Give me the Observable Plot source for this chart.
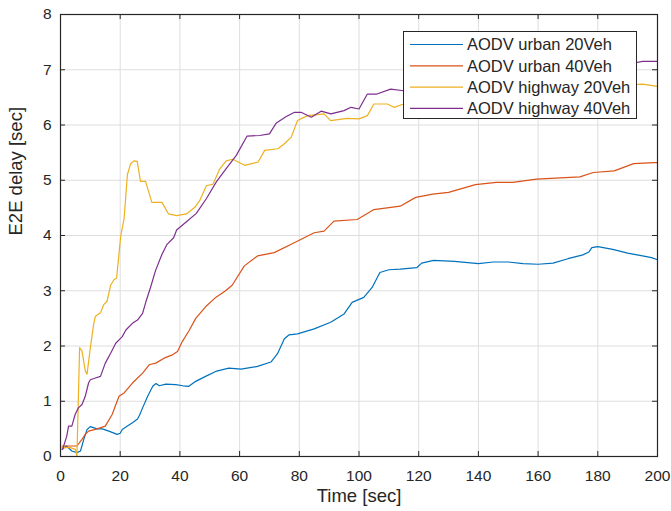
<!DOCTYPE html>
<html>
<head>
<meta charset="utf-8">
<script src="https://cdn.jsdelivr.net/npm/d3@7"></script>
<script src="https://cdn.jsdelivr.net/npm/@observablehq/plot@0.6"></script>
<style>
  html, body { margin: 0; padding: 0; background: #fff; }
  #wrap { position: relative; width: 671px; height: 511px; font-family: "Liberation Sans", Arial, sans-serif; }
  #legend { position: absolute; left: 403px; top: 31px; }
</style>
</head>
<body>
<div id="wrap"></div>
<script>
const xTicks = [0, 20, 40, 60, 80, 100, 120, 140, 160, 180, 200];
const yTicks = [0, 1, 2, 3, 4, 5, 6, 7, 8];
const seriesNames = ["AODV urban 20Veh", "AODV urban 40Veh", "AODV highway 20Veh", "AODV highway 40Veh"];
const seriesColors = ["#0072BD", "#D95319", "#EDB120", "#7E2F8E"];

const urban20T = [0.5,2,3.8,5.5,6.7,7.8,8.9,10,12.3,14,16.2,19,20,20.7,22.4,24.1,25.8,26.5,27.5,29.2,30.9,32,33.1,35.3,38.6,41,43,45.3,48.6,52,56.4,60.5,66,70.5,72.7,75,76.5,79.4,85,90.5,95,97.7,101.6,104.4,107,110,113.8,119.4,121,125,132,140,145,150,155,160,165,170,175,177,178,180,185,190,195,198,200];
const urban20V = [0.13,0.19,0.1,0.07,0.1,0.31,0.49,0.54,0.5,0.5,0.46,0.4,0.42,0.49,0.55,0.61,0.68,0.75,0.88,1.09,1.27,1.32,1.28,1.31,1.3,1.28,1.27,1.36,1.45,1.54,1.6,1.58,1.63,1.71,1.86,2.13,2.2,2.22,2.31,2.43,2.58,2.79,2.88,3.06,3.33,3.38,3.39,3.42,3.5,3.55,3.53,3.49,3.52,3.52,3.49,3.48,3.5,3.58,3.65,3.7,3.78,3.8,3.75,3.68,3.63,3.6,3.56];

const urban40T = [0.5,3.3,5.5,7.2,8.3,9.4,11.7,15,17.3,19.6,21.3,24.1,27.5,29.7,31.9,34.7,37.5,39.2,40.8,43.1,45.3,48.6,52,55.3,57.5,61.6,66,71.6,78.3,85,88.3,91.6,99.4,105,113.8,119,124.7,130,139,146,151.5,159.5,174,178.5,185.5,192,199,200];
const urban40V = [0.19,0.19,0.19,0.31,0.4,0.46,0.49,0.55,0.76,1.09,1.15,1.33,1.51,1.66,1.69,1.78,1.84,1.9,2.08,2.28,2.5,2.71,2.88,3.0,3.1,3.45,3.63,3.69,3.87,4.05,4.08,4.26,4.29,4.47,4.53,4.69,4.75,4.78,4.92,4.96,4.96,5.02,5.06,5.14,5.17,5.3,5.32,5.32];

const highway20T = [0.5,3.3,5,5.5,6.4,7.2,8.3,8.9,10,11.1,11.7,13.4,14.5,15.6,16.8,17.9,18.8,20.2,21.3,22.4,23.5,24.6,25.7,26.8,28.5,30.6,33,34,36.2,38.9,42.2,45,46.6,48.9,51.1,53.3,55.5,57.7,61.7,66.2,68.4,72.8,75,77.3,79.4,82.8,88.3,90.5,96,100,102.8,105,109.5,111.7,115,125,140,160,180,190,195,200];
const highway20V = [0.16,0.16,0.13,0.0,1.97,1.91,1.55,1.49,1.97,2.39,2.54,2.6,2.75,2.81,3.1,3.2,3.23,4.0,4.3,5.1,5.3,5.35,5.34,4.98,4.98,4.6,4.6,4.6,4.39,4.36,4.39,4.51,4.63,4.9,4.93,5.2,5.35,5.38,5.27,5.33,5.54,5.57,5.66,5.78,6.08,6.17,6.2,6.08,6.12,6.11,6.17,6.38,6.38,6.32,6.38,6.45,6.5,6.6,6.68,6.72,6.74,6.7];

const highway40T = [0.7,2.1,2.7,3.8,4.9,6,7.2,8.3,9.4,10,11.7,13.4,15,16.8,18.5,20.7,21.9,24.1,25.8,27.5,28.6,30.1,31.8,34,35.7,37.9,38.9,42.2,45.5,48.9,52.2,55.5,58.9,62.5,66.7,70,72.2,75.5,78.4,80.6,84,87.3,90.6,95,97.3,100,102.8,106,110.6,115,130,150,170,190,195,200];
const highway40V = [0.13,0.37,0.55,0.55,0.76,0.88,0.94,1.09,1.33,1.39,1.42,1.45,1.69,1.87,2.05,2.17,2.29,2.41,2.47,2.59,2.8,3.05,3.36,3.66,3.84,3.96,4.1,4.25,4.4,4.67,4.97,5.21,5.45,5.8,5.81,5.84,6.03,6.15,6.23,6.23,6.14,6.25,6.2,6.26,6.32,6.29,6.56,6.56,6.65,6.62,6.75,6.9,7.0,7.1,7.15,7.15];

const seriesT = [urban20T, urban40T, highway20T, highway40T];
const seriesV = [urban20V, urban40V, highway20V, highway40V];
const rows = seriesNames.flatMap((name, i) => seriesT[i].map((t, j) => ({series: name, t, v: seriesV[i][j]})));

const W = 671, H = 511, mL = 60, mR = 14, mT = 14, mB = 55;
const plotW = W - mL - mR, plotH = H - mT - mB;
const axisColor = "#262626";

const chart = Plot.plot({
  width: W, height: H,
  marginLeft: mL, marginRight: mR, marginTop: mT, marginBottom: mB,
  style: {fontFamily: "'Liberation Sans', Arial, sans-serif", fontSize: "15.5px", color: axisColor, background: "#fff", overflow: "visible"},
  x: {domain: [0, 200], ticks: xTicks, tickSize: 0, tickPadding: 13, label: null},
  y: {domain: [0, 8], ticks: yTicks, tickSize: 0, tickPadding: 9, label: null},
  color: {domain: seriesNames, range: seriesColors},
  marks: [
    Plot.ruleX(xTicks, {stroke: "#dedede", strokeWidth: 1}),
    Plot.ruleY(yTicks, {stroke: "#dedede", strokeWidth: 1}),
    Plot.line(rows, {x: "t", y: "v", z: "series", stroke: "series", strokeWidth: 1.2}),
    Plot.ruleX(xTicks, {stroke: axisColor, insetBottom: plotH - 5}),
    Plot.ruleX(xTicks, {stroke: axisColor, insetTop: plotH - 5}),
    Plot.ruleY(yTicks, {stroke: axisColor, insetRight: plotW - 5}),
    Plot.ruleY(yTicks, {stroke: axisColor, insetLeft: plotW - 5}),
    Plot.frame({stroke: axisColor, strokeWidth: 1.2}),
    Plot.text(["Time [sec]"], {frameAnchor: "bottom", dy: 45, fontSize: 18.5, fill: axisColor}),
    Plot.text(["E2E delay [sec]"], {frameAnchor: "left", dx: -44, rotate: -90, fontSize: 18.5, fill: axisColor})
  ]
});

const wrap = document.getElementById("wrap");
wrap.appendChild(chart);

// Legend box drawn inside the plot area
const lw = 234, lh = 88;
const legend = d3.create("svg").attr("id", "legend").attr("width", lw).attr("height", lh);
legend.append("rect").attr("x", 0.5).attr("y", 0.5).attr("width", lw - 1).attr("height", lh - 1)
  .attr("fill", "#fff").attr("stroke", axisColor).attr("stroke-width", 1);
seriesNames.forEach((name, i) => {
  const cy = 13.5 + i * 21.3;
  legend.append("line").attr("x1", 7).attr("x2", 60).attr("y1", cy).attr("y2", cy)
    .attr("stroke", seriesColors[i]).attr("stroke-width", 1.2);
  legend.append("text").attr("x", 64).attr("y", cy).attr("dy", "0.35em")
    .attr("font-size", 16.5).attr("fill", axisColor)
    .attr("font-family", "'Liberation Sans', Arial, sans-serif").text(name);
});
wrap.appendChild(legend.node());
</script>
</body>
</html>
